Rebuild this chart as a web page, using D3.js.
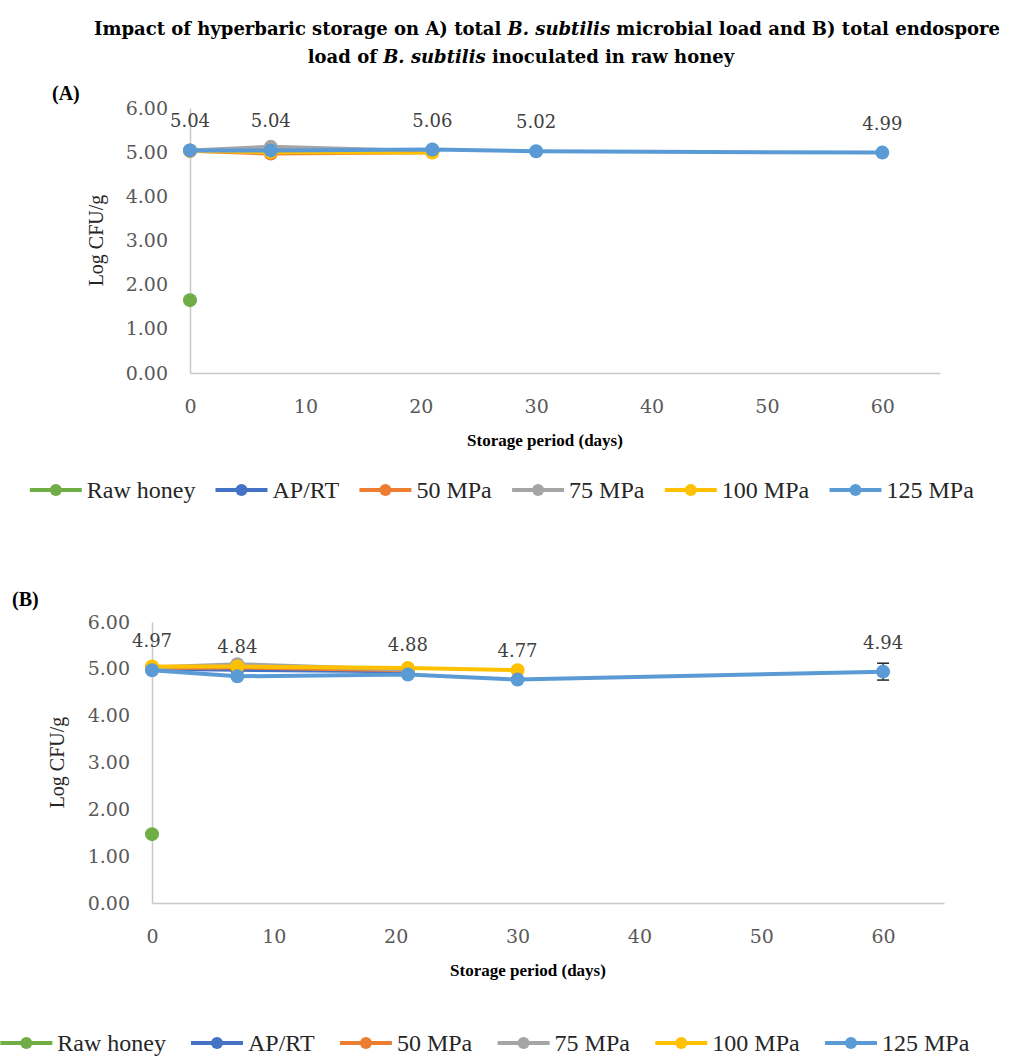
<!DOCTYPE html>
<html>
<head>
<meta charset="utf-8">
<script src="https://cdn.jsdelivr.net/npm/d3@7"></script>
<style>
  body { margin: 0; background: #fff; }
  svg { display: block; }
</style>
</head>
<body>
<script>
(function () {

    // storage days and series
    const days = [0, 7, 21, 30, 60];
    const seriesNames = ['Raw honey', 'AP/RT', '50 MPa', '75 MPa', '100 MPa', '125 MPa'];
    const seriesColors = ['#70AD47', '#4472C4', '#ED7D31', '#A5A5A5', '#FFC000', '#5B9BD5'];
    const yTicks = [0, 1, 2, 3, 4, 5, 6];
    const xTicks = [0, 10, 20, 30, 40, 50, 60];

    // (A) total microbial load, log CFU/g
    const rawA = [1.65];
    const aprtA = [5.03, 5.01, 5.02];
    const mpa50A = [5.03, 4.97, 5.00];
    const mpa75A = [5.04, 5.12, 5.02];
    const mpa100A = [5.03, 5.00, 4.99];
    const mpa125A = [5.04, 5.04, 5.06, 5.02, 4.99];

    // (B) endospore load, log CFU/g
    const rawB = [1.47];
    const aprtB = [5.00, 4.98, 4.95];
    const mpa50B = [5.02, 5.03, 4.97];
    const mpa75B = [5.03, 5.10, 4.98];
    const mpa100B = [5.05, 5.05, 5.02, 4.97];
    const mpa125B = [4.97, 4.84, 4.88, 4.77, 4.94];
    const err125B = [0, 0, 0, 0, 0.18];

    const svg = d3.select('body')
        .append('svg')
        .attr('width', 1017)
        .attr('height', 1056);

    const serif = "'Liberation Serif', 'DejaVu Serif', serif";
    const wide = "'DejaVu Serif', 'Liberation Serif', serif";

    // title
    const title = svg.append('text')
        .attr('font-family', wide)
        .attr('font-weight', 'bold')
        .attr('font-size', 18)
        .attr('fill', '#000')
        .attr('text-anchor', 'middle');
    const l1 = title.append('tspan').attr('x', 547).attr('y', 35);
    l1.append('tspan').text('Impact of hyperbaric storage on A) total ');
    l1.append('tspan').attr('font-style', 'italic').text('B. subtilis');
    l1.append('tspan').text(' microbial load and B) total endospore');
    const l2 = title.append('tspan').attr('x', 521).attr('y', 63);
    l2.append('tspan').text('load of ');
    l2.append('tspan').attr('font-style', 'italic').text('B. subtilis');
    l2.append('tspan').text(' inoculated in raw honey');

    function drawPanel(p) {
        const x = d3.scaleLinear().domain([0, 65]).range([p.left, p.right]);
        const y = d3.scaleLinear().domain([0, 6]).range([p.bottom, p.top]);
        const g = svg.append('g');

        g.append('text')
            .attr('x', p.tagX).attr('y', p.tagY)
            .attr('font-family', serif)
            .attr('font-weight', 'bold')
            .attr('font-size', 20)
            .text(p.tag);

        const xAxis = g.append('g')
            .attr('transform', 'translate(0,' + p.bottom + ')')
            .call(d3.axisBottom(x).tickValues(xTicks).tickSize(0).tickPadding(27).tickFormat(d3.format('d')));
        const yAxis = g.append('g')
            .attr('transform', 'translate(' + p.left + ',0)')
            .call(d3.axisLeft(y).tickValues(yTicks).tickSize(0).tickPadding(22).tickFormat(d3.format('.2f')));
        [xAxis, yAxis].forEach(function (a) {
            a.select('.domain').attr('stroke', '#c8c8c8').attr('stroke-width', 1.5);
            a.selectAll('text')
                .attr('font-family', wide)
                .attr('font-size', 19)
                .attr('fill', '#595959');
        });

        g.append('text')
            .attr('x', (p.left + p.right) / 2 - 20).attr('y', p.bottom + 73)
            .attr('text-anchor', 'middle')
            .attr('font-family', serif)
            .attr('font-weight', 'bold')
            .attr('font-size', 17)
            .text('Storage period (days)');

        g.append('text')
            .attr('transform', 'translate(' + p.ylabX + ',' + (p.top + p.bottom) / 2 + ') rotate(-90)')
            .attr('text-anchor', 'middle')
            .attr('font-family', serif)
            .attr('font-size', 20)
            .attr('fill', '#262626')
            .text('Log CFU/g');

        const line = d3.line()
            .x(function (d) { return x(d.day); })
            .y(function (d) { return y(d.v); });

        p.series.forEach(function (vals, i) {
            const pts = vals.map(function (v, k) { return {day: days[k], v: v, e: p.err && i === 5 ? p.err[k] : 0}; });
            const sg = g.append('g');
            sg.append('path')
                .datum(pts)
                .attr('d', line)
                .attr('fill', 'none')
                .attr('stroke', seriesColors[i])
                .attr('stroke-width', 4)
                .attr('stroke-linejoin', 'round');
            sg.selectAll('g.err')
                .data(pts.filter(function (d) { return d.e > 0; }))
                .join(function (enter) {
                    const eg = enter.append('g').attr('class', 'err');
                    eg.append('line')
                        .attr('x1', function (d) { return x(d.day); })
                        .attr('x2', function (d) { return x(d.day); })
                        .attr('y1', function (d) { return y(d.v - d.e); })
                        .attr('y2', function (d) { return y(d.v + d.e); });
                    [-1, 1].forEach(function (s) {
                        eg.append('line')
                            .attr('x1', function (d) { return x(d.day) - 6; })
                            .attr('x2', function (d) { return x(d.day) + 6; })
                            .attr('y1', function (d) { return y(d.v + s * d.e); })
                            .attr('y2', function (d) { return y(d.v + s * d.e); });
                    });
                    eg.selectAll('line').attr('stroke', '#262626').attr('stroke-width', 1.5);
                    return eg;
                });
            sg.selectAll('circle')
                .data(pts)
                .join('circle')
                .attr('cx', function (d) { return x(d.day); })
                .attr('cy', function (d) { return y(d.v); })
                .attr('r', 7)
                .attr('fill', seriesColors[i]);
            if (i === 5) {
                sg.selectAll('text.lbl')
                    .data(pts)
                    .join('text')
                    .attr('class', 'lbl')
                    .attr('x', function (d) { return x(d.day); })
                    .attr('y', function (d) { return y(d.v) - 23; })
                    .attr('text-anchor', 'middle')
                    .attr('font-family', wide)
                    .attr('font-size', 18)
                    .attr('fill', '#404040')
                    .text(function (d) { return d3.format('.2f')(d.v); });
            }
        });

        // legend
        const lg = g.append('g').attr('transform', 'translate(0,' + p.legendY + ')');
        const items = lg.selectAll('g').data(seriesNames).join('g');
        items.append('line')
            .attr('x1', 0).attr('x2', 52)
            .attr('stroke', function (d, i) { return seriesColors[i]; })
            .attr('stroke-width', 4);
        items.append('circle')
            .attr('cx', 26).attr('r', 6)
            .attr('fill', function (d, i) { return seriesColors[i]; });
        items.append('text')
            .attr('x', 57).attr('dy', '0.35em')
            .attr('font-family', serif)
            .attr('font-size', 24)
            .attr('fill', '#262626')
            .text(function (d) { return d; });
        const widths = [];
        items.each(function () { widths.push(this.getBBox().width); });
        const gap = p.legendGap;
        const total = d3.sum(widths) + gap * (widths.length - 1);
        let cx = p.legendCenter - total / 2;
        items.attr('transform', function (d, i) {
            const t = 'translate(' + cx + ',0)';
            cx += widths[i] + gap;
            return t;
        });
    }

    drawPanel({
        tag: '(A)', tagX: 52, tagY: 100,
        left: 190, right: 940, top: 108, bottom: 373,
        ylabX: 103, legendY: 490, legendCenter: 502, legendGap: 20,
        series: [rawA, aprtA, mpa50A, mpa75A, mpa100A, mpa125A]
    });

    drawPanel({
        tag: '(B)', tagX: 12, tagY: 606,
        left: 152, right: 944, top: 622, bottom: 903,
        ylabX: 64, legendY: 1043, legendCenter: 485, legendGap: 25,
        series: [rawB, aprtB, mpa50B, mpa75B, mpa100B, mpa125B],
        err: err125B
    });

})();
</script>
</body>
</html>
